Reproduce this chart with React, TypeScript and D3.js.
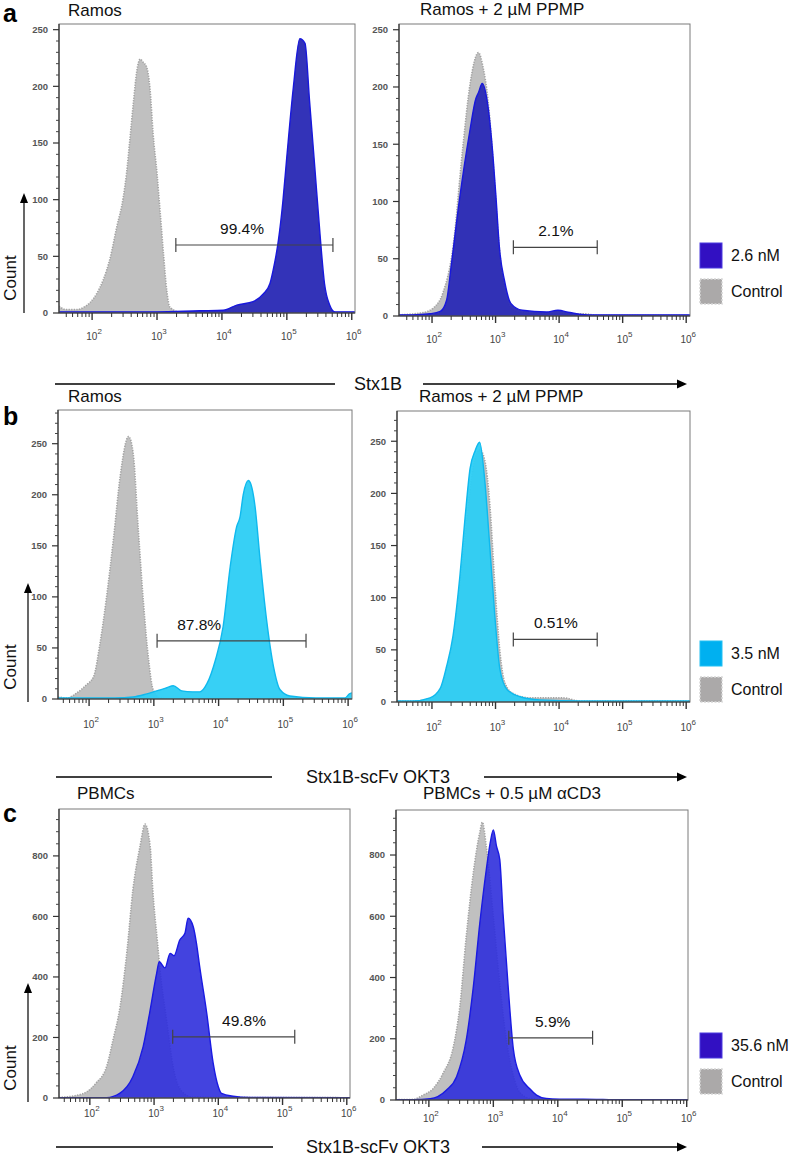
import React from "react";
import * as d3 from "d3";

// ---------------- data: log10 fluorescence vs event count ----------------
// Row a — Ramos (Stx1B 2.6 nM)
const aRamosCtrlLog = [1.49, 1.6, 1.75, 1.87, 2.07, 2.17, 2.28, 2.38, 2.48, 2.53, 2.58, 2.64, 2.69, 2.74, 2.79, 2.84, 2.89, 2.94, 3.0, 3.05, 3.1, 3.15, 3.2, 3.35, 3.6, 6.05];
const aRamosCtrlCount = [6, 3, 3, 5, 17, 29, 49, 76, 102, 123, 152, 188, 214, 224, 221, 217, 199, 158, 123, 88, 52, 20, 5, 1, 1, 0];
const aRamosStxLog = [1.49, 3.0, 3.66, 4.02, 4.23, 4.48, 4.64, 4.74, 4.79, 4.87, 4.94, 5.0, 5.1, 5.2, 5.28, 5.35, 5.43, 5.51, 5.58, 5.66, 5.74, 6.05];
const aRamosStxCount = [1, 1, 2, 2.4, 7, 10, 17, 26, 38, 64, 99, 138, 199, 242, 238, 187, 129, 70, 26, 7, 1, 1];

const aPpmpCtrlLog = [1.48, 1.86, 2.02, 2.17, 2.33, 2.48, 2.6, 2.73, 2.8, 2.88, 2.96, 3.04, 3.12, 3.23, 3.39, 3.8, 4.4, 4.6, 6.06];
const aPpmpCtrlCount = [1, 3, 7, 20, 60, 145, 203, 230, 218, 189, 136, 72, 29, 8, 3, 2, 2, 0.5, 0.5];
const aPpmpStxLog = [1.48, 1.7, 1.97, 2.13, 2.23, 2.3, 2.43, 2.59, 2.69, 2.73, 2.79, 2.88, 2.96, 3.01, 3.06, 3.14, 3.24, 3.42, 3.8, 3.98, 4.17, 4.44, 6.06];
const aPpmpStxCount = [1, 1, 2, 4, 14, 43, 101, 160, 190, 195, 203, 183, 139, 101, 60, 31, 11, 5, 3.5, 5, 3, 1, 1];

// Row b — Ramos (Stx1B-scFv OKT3 3.5 nM)
const bRamosCtrlLog = [1.52, 1.66, 1.81, 1.96, 2.07, 2.17, 2.27, 2.38, 2.48, 2.61, 2.68, 2.76, 2.84, 2.92, 2.99, 3.1, 3.3, 6.06];
const bRamosCtrlCount = [2, 1, 6, 14, 22, 55, 100, 159, 218, 257, 241, 166, 94, 38, 9, 1, 0, 0];
const bRamosScfvLog = [1.52, 2.4, 2.68, 2.89, 3.1, 3.2, 3.3, 3.43, 3.6, 3.71, 3.82, 3.95, 4.07, 4.18, 4.28, 4.33, 4.38, 4.46, 4.5, 4.56, 4.64, 4.74, 4.85, 4.95, 5.1, 5.5, 5.95, 6.02, 6.06];
const bRamosScfvCount = [1, 1, 2, 5, 9, 11, 13, 8, 7, 7, 15, 38, 71, 130, 169, 178, 200, 214, 210, 190, 137, 78, 31, 9, 3, 1, 1, 5, 6];

const bPpmpCtrlLog = [1.45, 1.7, 1.97, 2.13, 2.23, 2.33, 2.44, 2.55, 2.65, 2.75, 2.83, 2.91, 2.99, 3.07, 3.15, 3.28, 3.54, 4.06, 4.33, 6.06];
const bPpmpCtrlCount = [1, 1, 3, 11, 30, 58, 112, 175, 225, 242, 232, 190, 112, 48, 18, 8, 4, 4, 1, 1];
const bPpmpScfvLog = [1.45, 1.7, 1.97, 2.13, 2.23, 2.33, 2.44, 2.52, 2.6, 2.68, 2.75, 2.83, 2.91, 2.99, 3.07, 3.18, 3.39, 3.7, 4.33, 6.06];
const bPpmpScfvCount = [1, 1, 4, 13, 34, 63, 121, 176, 224, 241, 249, 213, 149, 82, 31, 12, 5, 2, 1, 1];

// Row c — PBMCs (Stx1B-scFv OKT3 35.6 nM)
const cPbmcCtrlLog = [1.52, 1.8, 1.95, 2.1, 2.26, 2.36, 2.47, 2.58, 2.67, 2.78, 2.86, 2.94, 2.98, 3.05, 3.09, 3.2, 3.3, 3.44, 3.6, 6.05];
const cPbmcCtrlCount = [2, 9, 20, 50, 103, 191, 301, 489, 687, 830, 905, 830, 687, 522, 430, 250, 100, 20, 3, 1];
const cPbmcScfvLog = [1.52, 2.26, 2.47, 2.67, 2.83, 2.93, 3.04, 3.08, 3.17, 3.25, 3.31, 3.4, 3.48, 3.53, 3.61, 3.66, 3.71, 3.82, 3.92, 4.0, 4.05, 4.23, 4.49, 6.05];
const cPbmcScfvCount = [1, 1, 16, 70, 170, 280, 412, 450, 430, 478, 470, 522, 544, 594, 566, 511, 434, 280, 115, 37, 15, 6, 2, 1];

const cCd3CtrlLog = [1.49, 1.76, 1.91, 2.07, 2.22, 2.38, 2.48, 2.58, 2.69, 2.79, 2.83, 2.89, 3.0, 3.1, 3.2, 3.31, 3.41, 3.57, 3.8, 6.02];
const cCd3CtrlCount = [1, 2, 16, 38, 87, 174, 305, 534, 743, 874, 907, 829, 600, 380, 200, 80, 25, 5, 1, 1];
const cCd3ScfvLog = [1.49, 1.76, 2.02, 2.27, 2.43, 2.58, 2.69, 2.79, 2.89, 2.95, 3.0, 3.05, 3.1, 3.15, 3.23, 3.31, 3.41, 3.57, 3.67, 3.82, 4.03, 4.6, 4.86, 6.02];
const cCd3ScfvCount = [1, 1, 4, 32, 76, 196, 370, 577, 751, 838, 882, 828, 785, 610, 370, 167, 82, 36, 16, 5, 3, 2, 1, 1];

// gates: [start log10, end log10, count level]
const gateValues = [
  [3.29, 5.71, 60],
  [3.28, 4.6, 60],
  [3.05, 5.35, 57],
  [3.28, 4.6, 60],
  [3.29, 5.19, 202],
  [3.24, 4.54, 203],
];
const gateLabels = ["99.4%", "2.1%", "87.8%", "0.51%", "49.8%", "5.9%"];
const gateLabelLog = [4.31, 3.95, 3.7, 3.95, 4.4, 3.92];

const panelTitles = ["Ramos", "Ramos + 2 µM PPMP", "Ramos", "Ramos + 2 µM PPMP", "PBMCs", "PBMCs + 0.5 µM αCD3"];
const legendLabels = ["2.6 nM", "3.5 nM", "35.6 nM"];
const axisTitles = ["Stx1B", "Stx1B-scFv OKT3", "Stx1B-scFv OKT3"];
const decades = [2, 3, 4, 5, 6];

// ---------------- styling / layout ----------------
const FONT = "'Liberation Sans', Arial, Helvetica, sans-serif";
const BLUE_A = { fill: "#2c2cb6", stroke: "#1818dc", legend: "#3210c2", legendStroke: "#4a3ae0", opacity: 0.97 };
const CYAN = { fill: "#2ccdf4", stroke: "#0fb9ee", legend: "#00b0f0", legendStroke: "#20c0f4", opacity: 0.95 };
const BLUE_C = { fill: "#2f2fdc", stroke: "#1a1ae2", legend: "#3210c2", legendStroke: "#4a3ae0", opacity: 0.9 };

interface PanelCfg {
  x0: number; x1: number; y0: number; y1: number;
  xDom: [number, number];
  yMax: number; yMajor: number; yMinor: number;
  ctrl: [number[], number[]];
  samp: [number[], number[]];
  color: typeof BLUE_A;
  idx: number;
  titleX: number; titleY: number;
  tickLabelY: number;
}

const panels: PanelCfg[] = [
  { x0: 59, x1: 355, y0: 24, y1: 313, xDom: [1.49, 6.05], yMax: 255, yMajor: 50, yMinor: 10, ctrl: [aRamosCtrlLog, aRamosCtrlCount], samp: [aRamosStxLog, aRamosStxCount], color: BLUE_A, idx: 0, titleX: 68, titleY: 16, tickLabelY: 340 },
  { x0: 399, x1: 690, y0: 24, y1: 316, xDom: [1.48, 6.06], yMax: 255, yMajor: 50, yMinor: 10, ctrl: [aPpmpCtrlLog, aPpmpCtrlCount], samp: [aPpmpStxLog, aPpmpStxCount], color: BLUE_A, idx: 1, titleX: 420, titleY: 15, tickLabelY: 343 },
  { x0: 58, x1: 352, y0: 410, y1: 699, xDom: [1.52, 6.06], yMax: 283, yMajor: 50, yMinor: 10, ctrl: [bRamosCtrlLog, bRamosCtrlCount], samp: [bRamosScfvLog, bRamosScfvCount], color: CYAN, idx: 2, titleX: 68, titleY: 402, tickLabelY: 728 },
  { x0: 397, x1: 690, y0: 411, y1: 702, xDom: [1.45, 6.06], yMax: 279, yMajor: 50, yMinor: 10, ctrl: [bPpmpCtrlLog, bPpmpCtrlCount], samp: [bPpmpScfvLog, bPpmpScfvCount], color: CYAN, idx: 3, titleX: 419, titleY: 402, tickLabelY: 731 },
  { x0: 59, x1: 350, y0: 809, y1: 1098, xDom: [1.52, 6.05], yMax: 955, yMajor: 200, yMinor: 40, ctrl: [cPbmcCtrlLog, cPbmcCtrlCount], samp: [cPbmcScfvLog, cPbmcScfvCount], color: BLUE_C, idx: 4, titleX: 77, titleY: 799, tickLabelY: 1117 },
  { x0: 396, x1: 688, y0: 810, y1: 1100, xDom: [1.49, 6.02], yMax: 947, yMajor: 200, yMinor: 40, ctrl: [cCd3CtrlLog, cCd3CtrlCount], samp: [cCd3ScfvLog, cCd3ScfvCount], color: BLUE_C, idx: 5, titleX: 423, titleY: 799, tickLabelY: 1122 },
];

const rows = [
  { letterY: 22, countX: 24, countTop: 195, countBottom: 313, countTextY: 278, axisY: 384, leftLine: [55, 335], rightLine: [423, 685], legendTop: 243, legendCtrlTop: 279, legendColor: BLUE_A },
  { letterY: 425, countX: 28, countTop: 585, countBottom: 702, countTextY: 667, axisY: 777, leftLine: [56, 272], rightLine: [484, 685], legendTop: 641, legendCtrlTop: 677, legendColor: CYAN },
  { letterY: 822, countX: 28, countTop: 985, countBottom: 1102, countTextY: 1068, axisY: 1147, leftLine: [56, 273], rightLine: [482, 685], legendTop: 1033, legendCtrlTop: 1069, legendColor: BLUE_C },
];
const rowLetters = ["a", "b", "c"];

function Panel({ p }: { p: PanelCfg }) {
  const x = d3.scaleLinear().domain(p.xDom).range([p.x0, p.x1]);
  const y = d3.scaleLinear().domain([0, p.yMax]).range([p.y1, p.y0]);
  const mkArea = (logs: number[], counts: number[]) => {
    const pts = logs.map((l, i) => [l, counts[i]] as [number, number]);
    return d3.area<[number, number]>()
      .x((d) => x(d[0]))
      .y0(y(0))
      .y1((d) => y(d[1]))
      .curve(d3.curveMonotoneX)(pts) || "";
  };
  const mkLine = (logs: number[], counts: number[]) => {
    const pts = logs.map((l, i) => [l, counts[i]] as [number, number]);
    return d3.line<[number, number]>()
      .x((d) => x(d[0]))
      .y((d) => y(d[1]))
      .curve(d3.curveMonotoneX)(pts) || "";
  };
  const clipId = `clip${p.idx}`;
  const yMajors = d3.range(0, p.yMax + 0.1, p.yMajor);
  const yMinors = d3.range(0, p.yMax + 0.1, p.yMinor).filter((v) => v % p.yMajor !== 0);
  const xTicks: { v: number; major: boolean }[] = [];
  for (let k = 1; k <= 6; k++) {
    for (let m = 1; m <= 9; m++) {
      const v = k + Math.log10(m);
      if (v >= p.xDom[0] && v <= p.xDom[1]) xTicks.push({ v, major: m === 1 });
    }
  }
  const g = gateValues[p.idx];
  const gy = y(g[2]);
  return (
    <g>
      <defs>
        <clipPath id={clipId}>
          <rect x={p.x0} y={p.y0} width={p.x1 - p.x0} height={p.y1 - p.y0} />
        </clipPath>
      </defs>
      <text x={p.titleX} y={p.titleY} fontFamily={FONT} fontSize={17} fill="#111">{panelTitles[p.idx]}</text>
      <g clipPath={`url(#${clipId})`}>
        <path d={mkArea(p.ctrl[0], p.ctrl[1])} fill="#c0c0c0" />
        <path d={mkLine(p.ctrl[0], p.ctrl[1])} fill="none" stroke="#a3a3a3" strokeWidth={1.6} strokeDasharray="1.3 1.3" />
        <path d={mkArea(p.samp[0], p.samp[1])} fill={p.color.fill} fillOpacity={p.color.opacity} />
        <path d={mkLine(p.samp[0], p.samp[1])} fill="none" stroke={p.color.stroke} strokeWidth={1.4} />
      </g>
      <rect x={p.x0} y={p.y0} width={p.x1 - p.x0} height={p.y1 - p.y0} fill="none" stroke="#7a7a7a" strokeWidth={1} />
      {/* y axis */}
      <line x1={p.x0} x2={p.x0} y1={p.y0} y2={p.y1} stroke="#333" strokeWidth={1.2} />
      {yMinors.map((v) => (
        <line key={"ym" + v} x1={p.x0 - 3} x2={p.x0} y1={y(v)} y2={y(v)} stroke="#444" strokeWidth={1} />
      ))}
      {yMajors.map((v) => (
        <g key={"yM" + v}>
          <line x1={p.x0 - 6} x2={p.x0} y1={y(v)} y2={y(v)} stroke="#333" strokeWidth={1.2} />
          <text x={p.x0 - 11} y={y(v)} dy="0.35em" textAnchor="end" fontFamily={FONT} fontSize={9.5} fontWeight="bold" fill="#555">{v}</text>
        </g>
      ))}
      {/* x axis */}
      <line x1={p.x0} x2={p.x1} y1={p.y1} y2={p.y1} stroke="#333" strokeWidth={1.2} />
      {xTicks.map((t, i) => (
        <line key={"xt" + i} x1={x(t.v)} x2={x(t.v)} y1={p.y1} y2={p.y1 + (t.major ? 7 : 4)} stroke="#333" strokeWidth={t.major ? 1.4 : 1} />
      ))}
      {decades.map((k) => (
        <text key={"xl" + k} x={x(k) + 2} y={p.tickLabelY} textAnchor="middle" fontFamily={FONT} fontSize={10} fill="#444">
          10<tspan dy={-6} fontSize={8}>{k}</tspan>
        </text>
      ))}
      {/* gate */}
      <g stroke="#444" strokeWidth={1.2}>
        <line x1={x(g[0])} x2={x(g[1])} y1={gy} y2={gy} />
        <line x1={x(g[0])} x2={x(g[0])} y1={gy - 7} y2={gy + 7} />
        <line x1={x(g[1])} x2={x(g[1])} y1={gy - 7} y2={gy + 7} />
      </g>
      <text x={x(gateLabelLog[p.idx])} y={gy - 11} textAnchor="middle" fontFamily={FONT} fontSize={15.5} fill="#111">{gateLabels[p.idx]}</text>
    </g>
  );
}

function Row({ r, i }: { r: typeof rows[number]; i: number }) {
  const title = axisTitles[i];
  const c = r.legendColor;
  return (
    <g>
      <text x={3} y={r.letterY} fontFamily={FONT} fontSize={25} fontWeight="bold" fill="#000">{rowLetters[i]}</text>
      {/* Count arrow */}
      <line x1={r.countX} x2={r.countX} y1={r.countBottom} y2={r.countTop + 6} stroke="#000" strokeWidth={1.2} />
      <path d={`M${r.countX},${r.countTop - 2} L${r.countX - 4},${r.countTop + 8} L${r.countX + 4},${r.countTop + 8} Z`} fill="#000" />
      <text transform={`translate(10,${r.countTextY}) rotate(-90)`} textAnchor="middle" dominantBaseline="central" fontFamily={FONT} fontSize={17} fill="#111">Count</text>
      {/* x axis title with arrow */}
      <line x1={r.leftLine[0]} x2={r.leftLine[1]} y1={r.axisY} y2={r.axisY} stroke="#000" strokeWidth={1.4} />
      <line x1={r.rightLine[0]} x2={r.rightLine[1] - 6} y1={r.axisY} y2={r.axisY} stroke="#000" strokeWidth={1.4} />
      <path d={`M${r.rightLine[1] + 2},${r.axisY} L${r.rightLine[1] - 8},${r.axisY - 4.5} L${r.rightLine[1] - 8},${r.axisY + 4.5} Z`} fill="#000" />
      <text x={378} y={r.axisY} dy="0.35em" textAnchor="middle" fontFamily={FONT} fontSize={18} fill="#111">{title}</text>
      {/* legend */}
      <rect x={700} y={r.legendTop} width={22} height={25} fill={c.legend} stroke={c.legendStroke} strokeWidth={1} />
      <text x={731} y={r.legendTop + 12.5} dy="0.35em" fontFamily={FONT} fontSize={16} fill="#111">{legendLabels[i]}</text>
      <rect x={700} y={r.legendCtrlTop} width={22} height={25} fill="#aba9a9" stroke="#d6d6d6" strokeWidth={1.5} strokeDasharray="2 1.5" />
      <text x={731} y={r.legendCtrlTop + 12.5} dy="0.35em" fontFamily={FONT} fontSize={16} fill="#111">Control</text>
    </g>
  );
}

export default function App() {
  return (
    <svg width={797} height={1156} viewBox="0 0 797 1156" style={{ display: "block", position: "absolute", left: 0, top: 0, background: "#fff" }}>
      <rect x={0} y={0} width={797} height={1156} fill="#fff" />
      {panels.map((p) => <Panel key={p.idx} p={p} />)}
      {rows.map((r, i) => <Row key={i} r={r} i={i} />)}
    </svg>
  );
}
